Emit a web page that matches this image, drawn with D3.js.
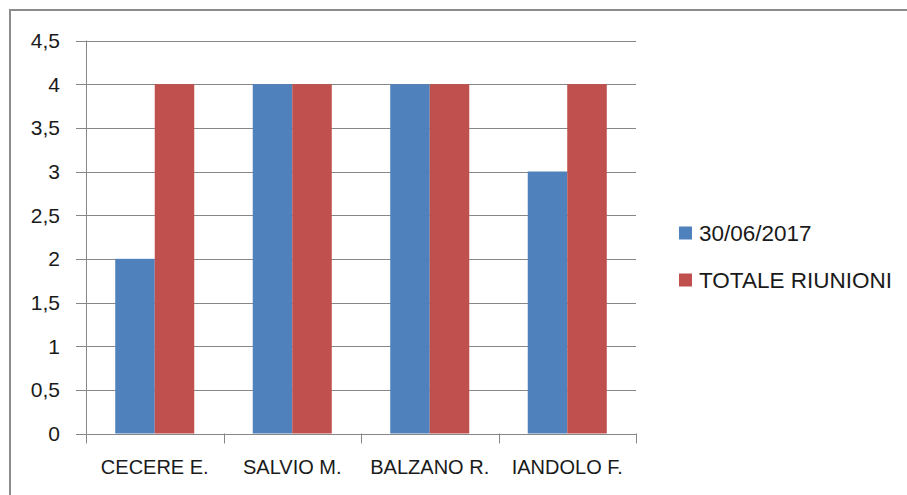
<!DOCTYPE html>
<html><head><meta charset="utf-8">
<script src="https://cdn.jsdelivr.net/npm/d3@7"></script>
<style>body{margin:0;background:#fff}svg{display:block}text{font-family:"Liberation Sans",Arial,sans-serif;fill:#1a1a1a}</style>
</head><body>
<svg id="c" width="907" height="495"></svg>
<script>
const categories = ["CECERE E.", "SALVIO M.", "BALZANO R.", "IANDOLO F."];
const seriesNames = ["30/06/2017", "TOTALE RIUNIONI"];
const series1 = [2, 4, 4, 3];
const series2 = [4, 4, 4, 4];
const yTicks = [0, 0.5, 1, 1.5, 2, 2.5, 3, 3.5, 4, 4.5];
const colors = ["#4F81BD", "#C0504D"];

(function () {
const svg = d3.select("#c");
// outer frame
svg.append("rect").attr("x", 10).attr("y", 10).attr("width", 960).attr("height", 560)
  .attr("fill", "#fff").attr("stroke", "#8c8c8c").attr("stroke-width", 2);

const pLeft = 86, pRight = 636, pTop = 40.5, pBottom = 433.5;
const y = d3.scaleLinear().domain([0, 4.5]).range([pBottom, pTop]);
const x = d3.scaleBand().domain(categories).range([pLeft, pRight]).paddingInner(0).paddingOuter(0);
const inner = d3.scaleBand().domain([0, 1]).range([0, x.bandwidth()]).paddingOuter(0.74).paddingInner(0);

// gridlines
svg.append("g").selectAll("line").data(yTicks).join("line")
  .attr("x1", 76).attr("x2", pRight).attr("y1", d => Math.round(y(d)) + 0.5).attr("y2", d => Math.round(y(d)) + 0.5)
  .attr("stroke", "#878787").attr("stroke-width", 1);

// y labels
const fmt = d => String(d).replace(".", ",");
svg.append("g").selectAll("text").data(yTicks).join("text")
  .attr("x", 60).attr("y", d => y(d)).attr("dy", "0.36em").attr("text-anchor", "end")
  .style("font-size", "21px").text(fmt);

// bars
const data = categories.map((c, i) => [series1[i], series2[i]]);
const g = svg.append("g");
categories.forEach((c, i) => {
  data[i].forEach((v, j) => {
    g.append("rect").attr("x", x(c) + inner(j)).attr("width", inner.bandwidth())
      .attr("y", y(v)).attr("height", y(0) - y(v)).attr("fill", colors[j]);
  });
});

// y axis line
svg.append("line").attr("x1", pLeft + 0.5).attr("x2", pLeft + 0.5).attr("y1", pTop).attr("y2", pBottom + 0.5)
  .attr("stroke", "#878787");
// x axis line
svg.append("line").attr("x1", pLeft).attr("x2", pRight + 0.5).attr("y1", Math.round(y(0)) + 0.5).attr("y2", Math.round(y(0)) + 0.5)
  .attr("stroke", "#878787");
// category ticks
const bounds = categories.map(c => x(c)).concat([pRight]);
svg.append("g").selectAll("line").data(bounds).join("line")
  .attr("x1", d => Math.round(d) + 0.5).attr("x2", d => Math.round(d) + 0.5)
  .attr("y1", pBottom).attr("y2", pBottom + 10).attr("stroke", "#878787");

// category labels
svg.append("g").selectAll("text").data(categories).join("text")
  .attr("x", d => x(d) + x.bandwidth() / 2).attr("y", 467).attr("dy", "0.36em")
  .attr("text-anchor", "middle").style("font-size", "20px").text(d => d);

// legend
const lg = svg.append("g");
seriesNames.forEach((s, i) => {
  const cy = 233 + i * 47;
  lg.append("rect").attr("x", 679).attr("y", cy - 6.5).attr("width", 13).attr("height", 13).attr("fill", colors[i]);
  lg.append("text").attr("x", 699).attr("y", cy).attr("dy", "0.36em").style("font-size", "22.5px").text(s);
});
})();
</script>
</body></html>
